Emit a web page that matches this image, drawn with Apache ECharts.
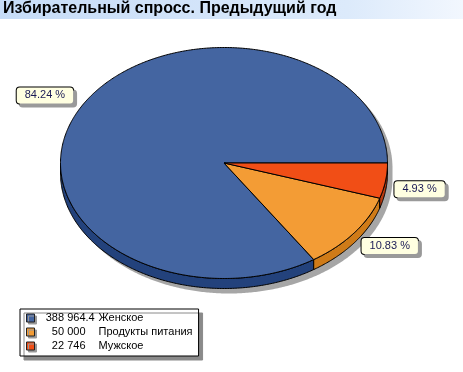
<!DOCTYPE html>
<html><head><meta charset="utf-8">
<script src="https://cdn.jsdelivr.net/npm/echarts@6/dist/echarts.min.js"></script>
<style>html,body{margin:0;padding:0;background:#fff}#c{width:463px;height:372px}</style>
</head><body><div id="c"></div>
<script>
const titleText = 'Избирательный спросс. Предыдущий год';
const categories = ['Женское', 'Продукты питания', 'Мужское'];
const values = [388964.4, 50000, 22746];
const valueLabels = ['388 964.4', '50 000', '22 746'];
const topColors = ['#4465A1', '#F39C35', '#F14E16'];
const sideColors = ['#23427C', '#CF7B18', '#B83A0E'];

const CX = 224, CY = 163, RX = 163.5, RY = 115.5, DEPTH = 10;
const FONT = '"Liberation Sans", Arial, sans-serif';
const total = values.reduce((a, b) => a + b, 0);
const starts = [];
let acc = 0;
values.forEach(v => { starts.push(acc / total * 2 * Math.PI); acc += v; });

function pt(a, dx, dy) { return [CX + RX * Math.cos(a) + (dx || 0), CY - RY * Math.sin(a) + (dy || 0)]; }
function arc(a0, a1, dx, dy) {
  const n = Math.max(2, Math.ceil(Math.abs(a1 - a0) / 0.01));
  const p = [];
  for (let i = 0; i <= n; i++) p.push(pt(a0 + (a1 - a0) * i / n, dx, dy));
  return p;
}

function sliceRender(i) {
  return function (params, api) {
    const a0 = starts[i], a1 = a0 + values[i] / total * 2 * Math.PI;
    const children = [];
    const s = Math.max(a0, Math.PI), e = Math.min(a1, 2 * Math.PI);
    if (e > s) {
      const pts = arc(s, e, 0, 0).concat(arc(e, s, 0, DEPTH));
      children.push({ type: 'polygon', shape: { points: pts },
        style: { fill: sideColors[i], stroke: '#000', lineWidth: 1 } });
    }
    const face = [[CX, CY]].concat(arc(a0, a1, 0, 0));
    children.push({ type: 'polygon', shape: { points: face },
      style: { fill: topColors[i], stroke: '#000', lineWidth: 1, lineJoin: 'miter' } });
    const m = (a0 + a1) / 2;
    const sm = Math.sin(m), cm = Math.cos(m);
    const lx = CX + (RX + 8) * cm;
    const ly = CY - (RY + 10) * sm + (sm < 0 ? 7 : -8);
    children.push({ type: 'text', z2: 50, style: {
      text: (values[i] / total * 100).toFixed(2) + ' %',
      x: lx + (cm < 0 ? 0 : 1), y: ly, align: cm < 0 ? 'right' : 'left', verticalAlign: 'middle',
      font: '11px ' + FONT, fill: '#1a1a55',
      backgroundColor: '#FFFFE1', borderColor: '#000', borderWidth: 1, borderRadius: 3,
      padding: [3, 8, 2, 8],
      shadowColor: '#9a9a9a', shadowOffsetX: 3, shadowOffsetY: 3, shadowBlur: 0
    } });
    return { type: 'group', children };
  };
}

const shadowSeries = {
  type: 'custom', coordinateSystem: 'none', silent: true, z: 1,
  data: [0],
  renderItem: function () {
    const pts = arc(0, Math.PI, 5, 5).concat(arc(Math.PI, 2 * Math.PI, 5, DEPTH + 5));
    return { type: 'polygon', shape: { points: pts }, style: { fill: '#a6a6a6' } };
  }
};

const sliceSeries = categories.map((name, i) => ({
  name, type: 'custom', coordinateSystem: 'none', z: 2,
  itemStyle: { color: topColors[i] },
  data: [values[i]],
  renderItem: sliceRender(i)
}));

// legend: integer parts right-aligned, decimals hanging, names in one column
const ctx = document.createElement('canvas').getContext('2d');
ctx.font = '11px ' + FONT;
const INT_COL = 46, DEC_COL = 13;
const rich = {};
valueLabels.forEach((lab, i) => {
  const dot = lab.indexOf('.');
  const ip = dot < 0 ? lab : lab.slice(0, dot);
  const dp = dot < 0 ? '' : lab.slice(dot);
  const wi = ctx.measureText(ip).width, wd = dp ? ctx.measureText(dp).width : 0;
  rich['i' + i] = { fontFamily: FONT, fontSize: 11, lineHeight: 14, color: '#000', padding: [0, 0, 0, Math.max(0, INT_COL - wi)] };
  rich['n' + i] = { fontFamily: FONT, fontSize: 11, lineHeight: 14, color: '#000', padding: [0, 0, 0, Math.max(0, DEC_COL - wd)] };
});
rich.d = { fontFamily: FONT, fontSize: 11, lineHeight: 14, color: '#000' };

const chart = echarts.init(document.getElementById('c'), null, { renderer: 'canvas' });
chart.setOption({
  animation: false,
  backgroundColor: '#fff',
  graphic: [{
    type: 'rect', z: 0, silent: true,
    shape: { x: 0, y: 0, width: 463, height: 19 },
    style: { fill: new echarts.graphic.LinearGradient(0, 0, 1, 0, [
      { offset: 0, color: '#C6DCF7' }, { offset: 0.75, color: '#DCEAFB' }, { offset: 1, color: '#F2F7FE' }]) }
  }],
  title: {
    text: titleText, left: 0, top: 0, padding: [1, 3], z: 10,
    textStyle: { fontSize: 16, fontWeight: 'bold', fontFamily: FONT, color: '#000' }
  },
  legend: {
    orient: 'vertical', left: 20, top: 309, padding: [2, 6, 3, 6],
    itemWidth: 8, itemHeight: 8, itemGap: 0, itemTextGap: 5, icon: 'rect',
    backgroundColor: '#fff', borderColor: '#000', borderWidth: 1, borderRadius: 0,
    shadowColor: '#8a8a8a', shadowOffsetX: 4, shadowOffsetY: 4, shadowBlur: 0,
    data: categories,
    itemStyle: { borderColor: '#222', borderWidth: 1, shadowColor: '#999', shadowOffsetX: 2, shadowOffsetY: 2, shadowBlur: 0 },
    formatter: function (name) {
      const i = categories.indexOf(name);
      const lab = valueLabels[i];
      const dot = lab.indexOf('.');
      const ip = dot < 0 ? lab : lab.slice(0, dot);
      const dp = dot < 0 ? '' : lab.slice(dot);
      return '{i' + i + '|' + ip + '}' + (dp ? '{d|' + dp + '}' : '') + '{n' + i + '|' + name + '}';
    },
    textStyle: { fontFamily: FONT, fontSize: 11, color: '#000', lineHeight: 14, rich: rich }
  },
  series: [shadowSeries].concat(sliceSeries)
});
</script>
</body></html>
